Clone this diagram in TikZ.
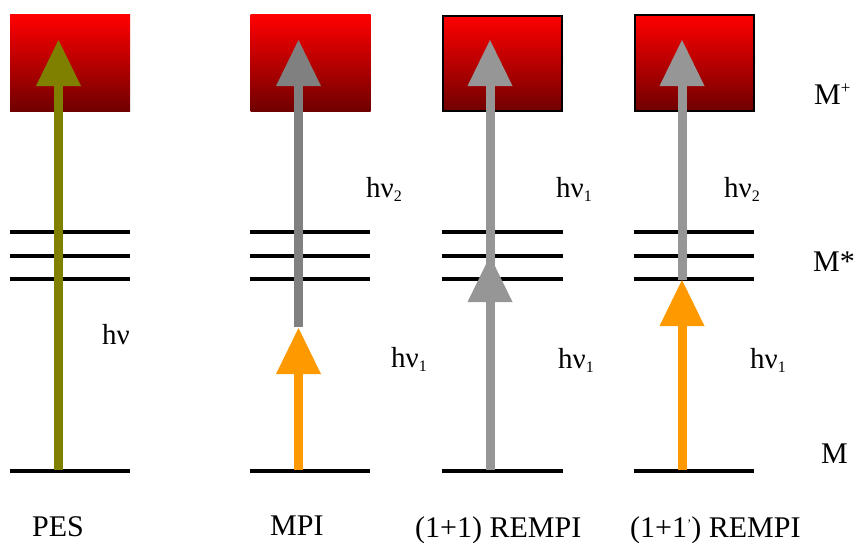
\documentclass[tikz,border=0pt]{standalone}
\usepackage{fontspec}
\setmainfont{Liberation Serif}
\definecolor{iondark}{RGB}{112,0,0}
\definecolor{olivecol}{RGB}{128,128,0}
\definecolor{graydk}{RGB}{128,128,128}
\definecolor{graylt}{RGB}{150,150,150}
\definecolor{orangecol}{RGB}{255,153,0}
\newcommand\lowsub[1]{\raisebox{-4pt}{\fontsize{16}{16}\selectfont #1}}
\newcommand\headtri[2]{\fill[#2] (#1) -- ++(-22.5,46) -- ++(45,0) -- cycle;}
\begin{document}
\begin{tikzpicture}[x=1pt,y=-1pt,
  lvl/.style={line width=3.5pt,black},
  ionbox/.style={inner sep=0pt,minimum width=120pt,minimum height=96pt,top color=red,bottom color=iondark},
  shaft/.style={line width=9pt},
  lbl/.style={anchor=base west,inner sep=0pt,font=\fontsize{30}{30}\selectfont},
  nulbl/.style={anchor=base west,inner sep=0pt,font=\fontsize{29}{29}\selectfont}]
\useasboundingbox (0,0) rectangle (859,543);
% ionisation continua
\node[ionbox] (ion1) at (70,63) {};
\node[ionbox] (ion2) at (310.5,63) {};
\node[ionbox,draw=black,line width=2pt,minimum width=119pt,minimum height=95pt] (ion3) at (502.5,63.5) {};
\node[ionbox,draw=black,line width=2pt,minimum width=119pt,minimum height=95pt] (ion4) at (694,63) {};
% levels
\foreach \a/\b in {10/130,250/370,442/563,634/754}{
  \foreach \y in {232,256,279,471}{
    \draw[lvl] (\a,\y) -- (\b,\y);
  }
}
% named arrow points
\coordinate (g1) at (58.5,470); \coordinate (b1) at (58.5,86); \coordinate (t1) at (58.5,40);
\coordinate (g2) at (298.5,470); \coordinate (m2b) at (298.5,374); \coordinate (m2) at (298.5,328);
\coordinate (s2) at (298.5,327); \coordinate (b2) at (298.5,86); \coordinate (t2) at (298.5,40);
\coordinate (g3) at (490,470); \coordinate (m3) at (490,256); \coordinate (b3) at (490,86); \coordinate (t3) at (490,40);
\coordinate (g4) at (682,470); \coordinate (m4b) at (682,326); \coordinate (m4) at (682,280);
\coordinate (b4) at (682,86); \coordinate (t4) at (682,40);
% PES
\draw[shaft,olivecol] (g1) -- (b1); \headtri{t1}{olivecol}
% MPI
\draw[shaft,orangecol] (g2) -- (m2b); \headtri{m2}{orangecol}
\draw[shaft,graydk] (s2) -- (b2); \headtri{t2}{graydk}
% (1+1) REMPI
\draw[shaft,graylt] (g3) -- (b3); \headtri{t3}{graylt} \headtri{m3}{graylt}
% (1+1') REMPI
\draw[shaft,orangecol] (g4) -- (m4b); \headtri{m4}{orangecol}
\draw[shaft,graylt] (m4) -- (b4); \headtri{t4}{graylt}
% photon labels
\node[nulbl] (nu1) at (102,344) {hν};
\node[nulbl] (nu2a) at (366,197) {hν\lowsub{2}};
\node[nulbl] (nu2b) at (391,367) {hν\lowsub{1}};
\node[nulbl] (nu3a) at (556,197) {hν\lowsub{1}};
\node[nulbl] (nu3b) at (558,368) {hν\lowsub{1}};
\node[nulbl] (nu4a) at (724,197) {hν\lowsub{2}};
\node[nulbl] (nu4b) at (750,368) {hν\lowsub{1}};
% state labels
\node[lbl] (mplus) at (814,104) {M\raisebox{11pt}{\fontsize{17}{17}\selectfont +}};
\node[lbl] (mstar) at (813,271) {M*};
\node[lbl] (mgnd) at (821,463) {M};
% method labels
\node[lbl] (pes) at (32,536) {PES};
\node[lbl] (mpi) at (270,535) {MPI};
\node[lbl] (rempi) at (415,537) {(1+1) REMPI};
\node[lbl] (rempip) at (630,537) {(1+1\raisebox{9pt}{\fontsize{13}{13}\selectfont '}) REMPI};
\end{tikzpicture}
\end{document}
